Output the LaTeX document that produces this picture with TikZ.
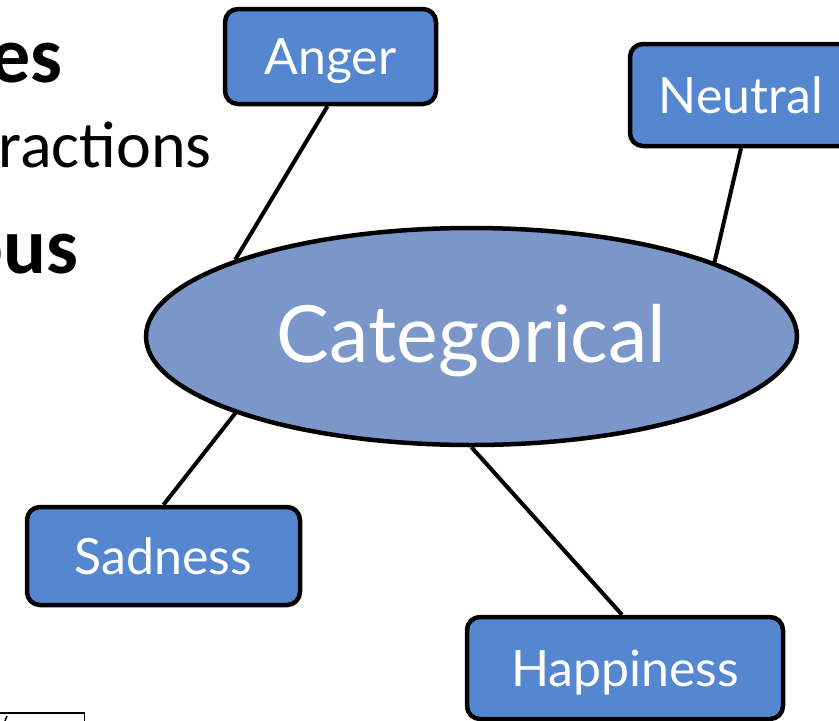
\documentclass[tikz,border=0pt]{standalone}
\usepackage{fontspec}
\usetikzlibrary{shapes.geometric}
\newfontfamily\labelfont{Lato}
\newfontfamily\bodyfont{Carlito}
\definecolor{boxblue}{HTML}{5587D1}
\definecolor{ovalblue}{HTML}{7B97C9}
\tikzset{
  emobox/.style={draw=black, line width=4.5pt, fill=boxblue, rounded corners=13pt,
    text=white, font=\labelfont\fontsize{50}{60}\selectfont, inner sep=0pt,
    text height=36pt, text depth=0pt},
  hub/.style={ellipse, draw=black, line width=4.5pt, fill=ovalblue,
    text=white, font=\labelfont\fontsize{79}{95}\selectfont, inner sep=0pt,
    text height=51pt, text depth=0pt},
  link/.style={draw=black, line width=4pt},
  slidebold/.style={font=\bodyfont\bfseries\fontsize{80}{96}\selectfont, inner sep=0pt, anchor=base east},
  slidetext/.style={font=\bodyfont\fontsize{66}{80}\selectfont, inner sep=0pt, anchor=base east},
}
\begin{document}
\begin{tikzpicture}[x=1pt, y=-1pt]
\useasboundingbox (0,0) rectangle (839,721);

% slide text running behind the diagram
\node[slidebold] (t1) at (63,82) {es};
\node[slidetext] (t2) at (212,167) {ractions};
\node[slidebold] (t3) at (79,273) {ous};

% partly visible frame at the lower left
\coordinate (f1) at (0,713);
\coordinate (f2) at (84.5,713);
\coordinate (f3) at (84.5,721);
\coordinate (f4) at (7,716);
\coordinate (f5) at (5,721);
\draw[line width=1.5pt] (f1) -- (f2) -- (f3);
\draw[line width=1.5pt] (f4) -- (f5);

% central category
\node[hub, minimum width=651pt, minimum height=217pt] (cat) at (471.5,336.5) {Categorical};

% emotion boxes
\node[emobox, minimum width=211pt, minimum height=95pt] (anger) at (330.5,56.5) {Anger};
\node[emobox, minimum width=222pt, minimum height=102pt] (neutral) at (741,95) {Neutral};
\node[emobox, minimum width=273pt, minimum height=98pt] (sadness) at (163.5,556) {Sadness};
\node[emobox, minimum width=316pt, minimum height=102pt] (happiness) at (625,668) {Happiness};

% connectors
\draw[link] (anger.south) ++(-3pt,0) -- (cat.162.6);
\draw[link] (neutral.south) -- (cat.17.2);
\draw[link] (sadness.north) -- (cat.198.9);
\draw[link] (happiness.north) ++(-3pt,0) -- (cat.270.5);
\end{tikzpicture}
\end{document}
